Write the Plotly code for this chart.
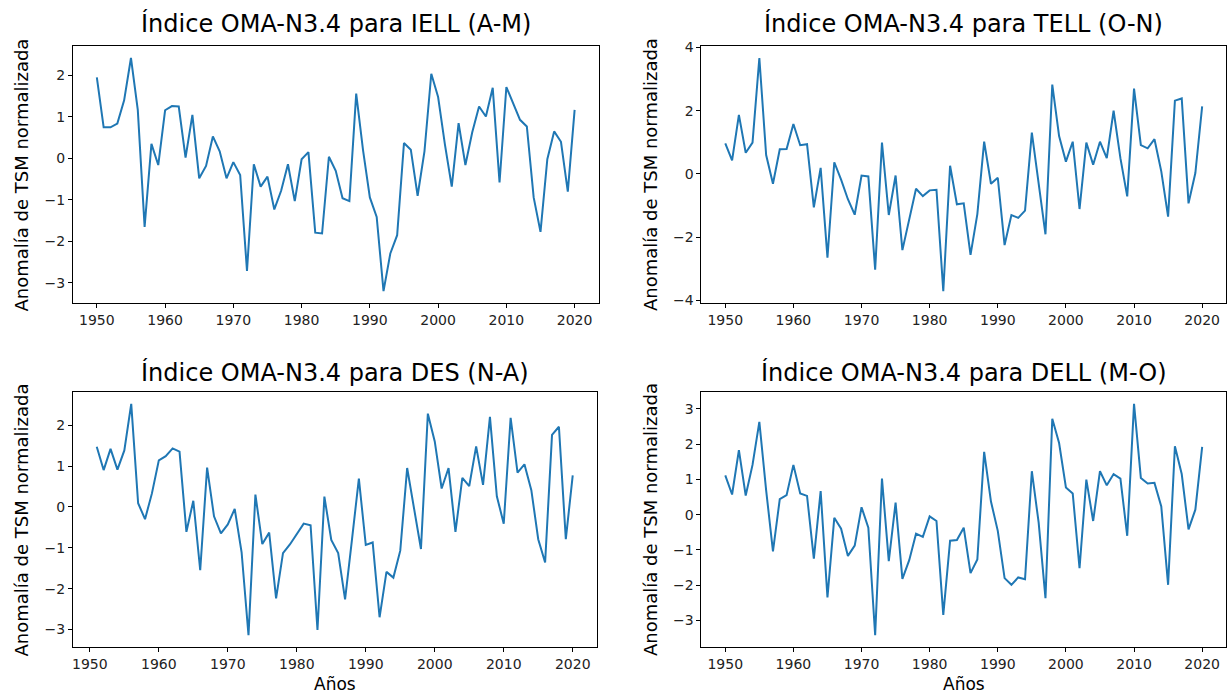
import plotly.graph_objects as go
from plotly.subplots import make_subplots

years_full = list(range(1950, 2021))
years_des = list(range(1951, 2021))

iell = [1.95, 0.75, 0.75, 0.84, 1.40, 2.42, 1.17, -1.65, 0.35, -0.16,
        1.16, 1.26, 1.25, 0.02, 1.05, -0.48, -0.18, 0.53, 0.17, -0.48,
        -0.09, -0.40, -2.71, -0.14, -0.68, -0.44, -1.23, -0.78, -0.14, -1.03,
        -0.02, 0.15, -1.79, -1.81, 0.04, -0.30, -0.96, -1.03, 1.56, 0.20,
        -0.94, -1.41, -3.20, -2.29, -1.85, 0.37, 0.21, -0.90, 0.17, 2.04,
        1.48, 0.33, -0.68, 0.85, -0.16, 0.63, 1.25, 1.01, 1.70, -0.58,
        1.72, 1.33, 0.93, 0.77, -0.94, -1.77, -0.02, 0.65, 0.40, -0.80,
        1.17]

tell = [0.97, 0.43, 1.87, 0.67, 0.99, 3.67, 0.60, -0.31, 0.78, 0.79,
        1.58, 0.91, 0.94, -1.06, 0.19, -2.65, 0.37, -0.18, -0.80, -1.29,
        -0.05, -0.08, -3.03, 0.99, -1.30, -0.05, -2.41, -1.47, -0.47, -0.70,
        -0.52, -0.50, -3.71, 0.26, -0.96, -0.93, -2.56, -1.27, 1.02, -0.31,
        -0.12, -2.25, -1.30, -1.39, -1.16, 1.31, -0.33, -1.91, 2.83, 1.20,
        0.39, 1.02, -1.11, 0.99, 0.29, 1.02, 0.50, 2.00, 0.50, -0.71,
        2.70, 0.91, 0.81, 1.10, 0.08, -1.35, 2.32, 2.39, -0.93, 0.03,
        2.14]

des = [1.47, 0.90, 1.42, 0.91, 1.38, 2.52, 0.09, -0.30, 0.33,
       1.14, 1.24, 1.43, 1.35, -0.61, 0.15, -1.55, 0.96, -0.23, -0.65,
       -0.43, -0.05, -1.11, -3.14, 0.30, -0.91, -0.63, -2.24, -1.13, -0.92,
       -0.67, -0.41, -0.45, -3.01, 0.25, -0.81, -1.13, -2.26, -0.80, 0.69,
       -0.93, -0.87, -2.70, -1.59, -1.73, -1.07, 0.95, 0.00, -1.03, 2.28,
       1.60, 0.45, 0.95, -0.61, 0.71, 0.51, 1.48, 0.54, 2.20, 0.26,
       -0.41, 2.18, 0.84, 1.04, 0.41, -0.79, -1.36, 1.76, 1.96, -0.79,
       0.77]

dell = [1.11, 0.57, 1.83, 0.54, 1.41, 2.63, 0.69, -1.04, 0.44, 0.55,
        1.41, 0.60, 0.53, -1.25, 0.67, -2.35, -0.09, -0.40, -1.17, -0.88,
        0.21, -0.37, -3.42, 1.02, -1.32, 0.34, -1.82, -1.29, -0.54, -0.63,
        -0.05, -0.18, -2.84, -0.74, -0.72, -0.37, -1.66, -1.27, 1.78, 0.37,
        -0.46, -1.80, -1.99, -1.78, -1.83, 1.23, -0.23, -2.37, 2.72, 2.03,
        0.77, 0.60, -1.52, 0.99, -0.18, 1.23, 0.83, 1.15, 1.02, -0.60,
        3.14, 1.04, 0.88, 0.90, 0.23, -1.99, 1.94, 1.15, -0.42, 0.14,
        1.92]

titles = ["Índice OMA-N3.4 para IELL (A-M)", "Índice OMA-N3.4 para TELL (O-N)",
          "Índice OMA-N3.4 para DES (N-A)", "Índice OMA-N3.4 para DELL (M-O)"]
ylabel = "Anomalía de TSM normalizada"
xlabel = "Años"

W, H = 1232, 700
FONT = "DejaVu Sans"
LINE = "#1f77b4"

panels = [
    (years_full, iell, (72, 598), (40, 301), 1),
    (years_full, tell, (701, 1226), (40, 301), 2),
    (years_des, des, (72, 596), (392, 651), 1),
    (years_full, dell, (701, 1226), (392, 651), 1),
]

fig = make_subplots(rows=2, cols=2)
annotations = []
for i, (xs, ys, (x0, x1), (y0, y1), dt) in enumerate(panels):
    r, c = i // 2 + 1, i % 2 + 1
    fig.add_trace(go.Scatter(x=xs, y=ys, mode="lines",
                             line=dict(color=LINE, width=2),
                             showlegend=False, hoverinfo="x+y"), row=r, col=c)
    xmin, xmax = min(xs), max(xs)
    xm = (xmax - xmin) * 0.05
    ymin, ymax = min(ys), max(ys)
    ym = (ymax - ymin) * 0.05
    ax = dict(showline=True, linecolor="black", linewidth=1, mirror=True,
              ticks="outside", ticklen=4, tickcolor="black", tickwidth=1,
              showgrid=False, zeroline=False,
              tickfont=dict(family=FONT, size=14, color="#222"))
    fig.update_xaxes(ax, range=[xmin - xm, xmax + xm], dtick=10, tick0=1950,
                     domain=[x0 / W, x1 / W], row=r, col=c)
    fig.update_yaxes(ax, range=[ymin - ym, ymax + ym], dtick=dt, tick0=0,
                     domain=[1 - y1 / H, 1 - y0 / H], row=r, col=c)
    cx = (x0 + x1) / 2
    ty = 17 if r == 1 else 372
    annotations.append(dict(text=titles[i], x=cx / W, y=1 - ty / H,
                            xref="paper", yref="paper", showarrow=False,
                            xanchor="center", yanchor="middle",
                            font=dict(family=FONT, size=24, color="black")))
    annotations.append(dict(text=ylabel, x=(x0 - 51) / W, y=1 - ((y0 + y1) / 2) / H,
                            xref="paper", yref="paper", showarrow=False,
                            textangle=-90, xanchor="center", yanchor="middle",
                            font=dict(family=FONT, size=18, color="black")))
    if r == 2:
        annotations.append(dict(text=xlabel, x=cx / W, y=1 - 689 / H,
                                xref="paper", yref="paper", showarrow=False,
                                xanchor="center", yanchor="middle",
                                font=dict(family=FONT, size=17, color="black")))

fig.update_layout(width=W, height=H, margin=dict(l=0, r=0, t=0, b=0),
                  paper_bgcolor="white", plot_bgcolor="white",
                  annotations=annotations, font=dict(family=FONT))

fig.write_html("out.html", config={"displayModeBar": False},
               post_script="document.body.style.margin='0';document.body.style.padding='0';document.body.style.overflow='hidden';")
